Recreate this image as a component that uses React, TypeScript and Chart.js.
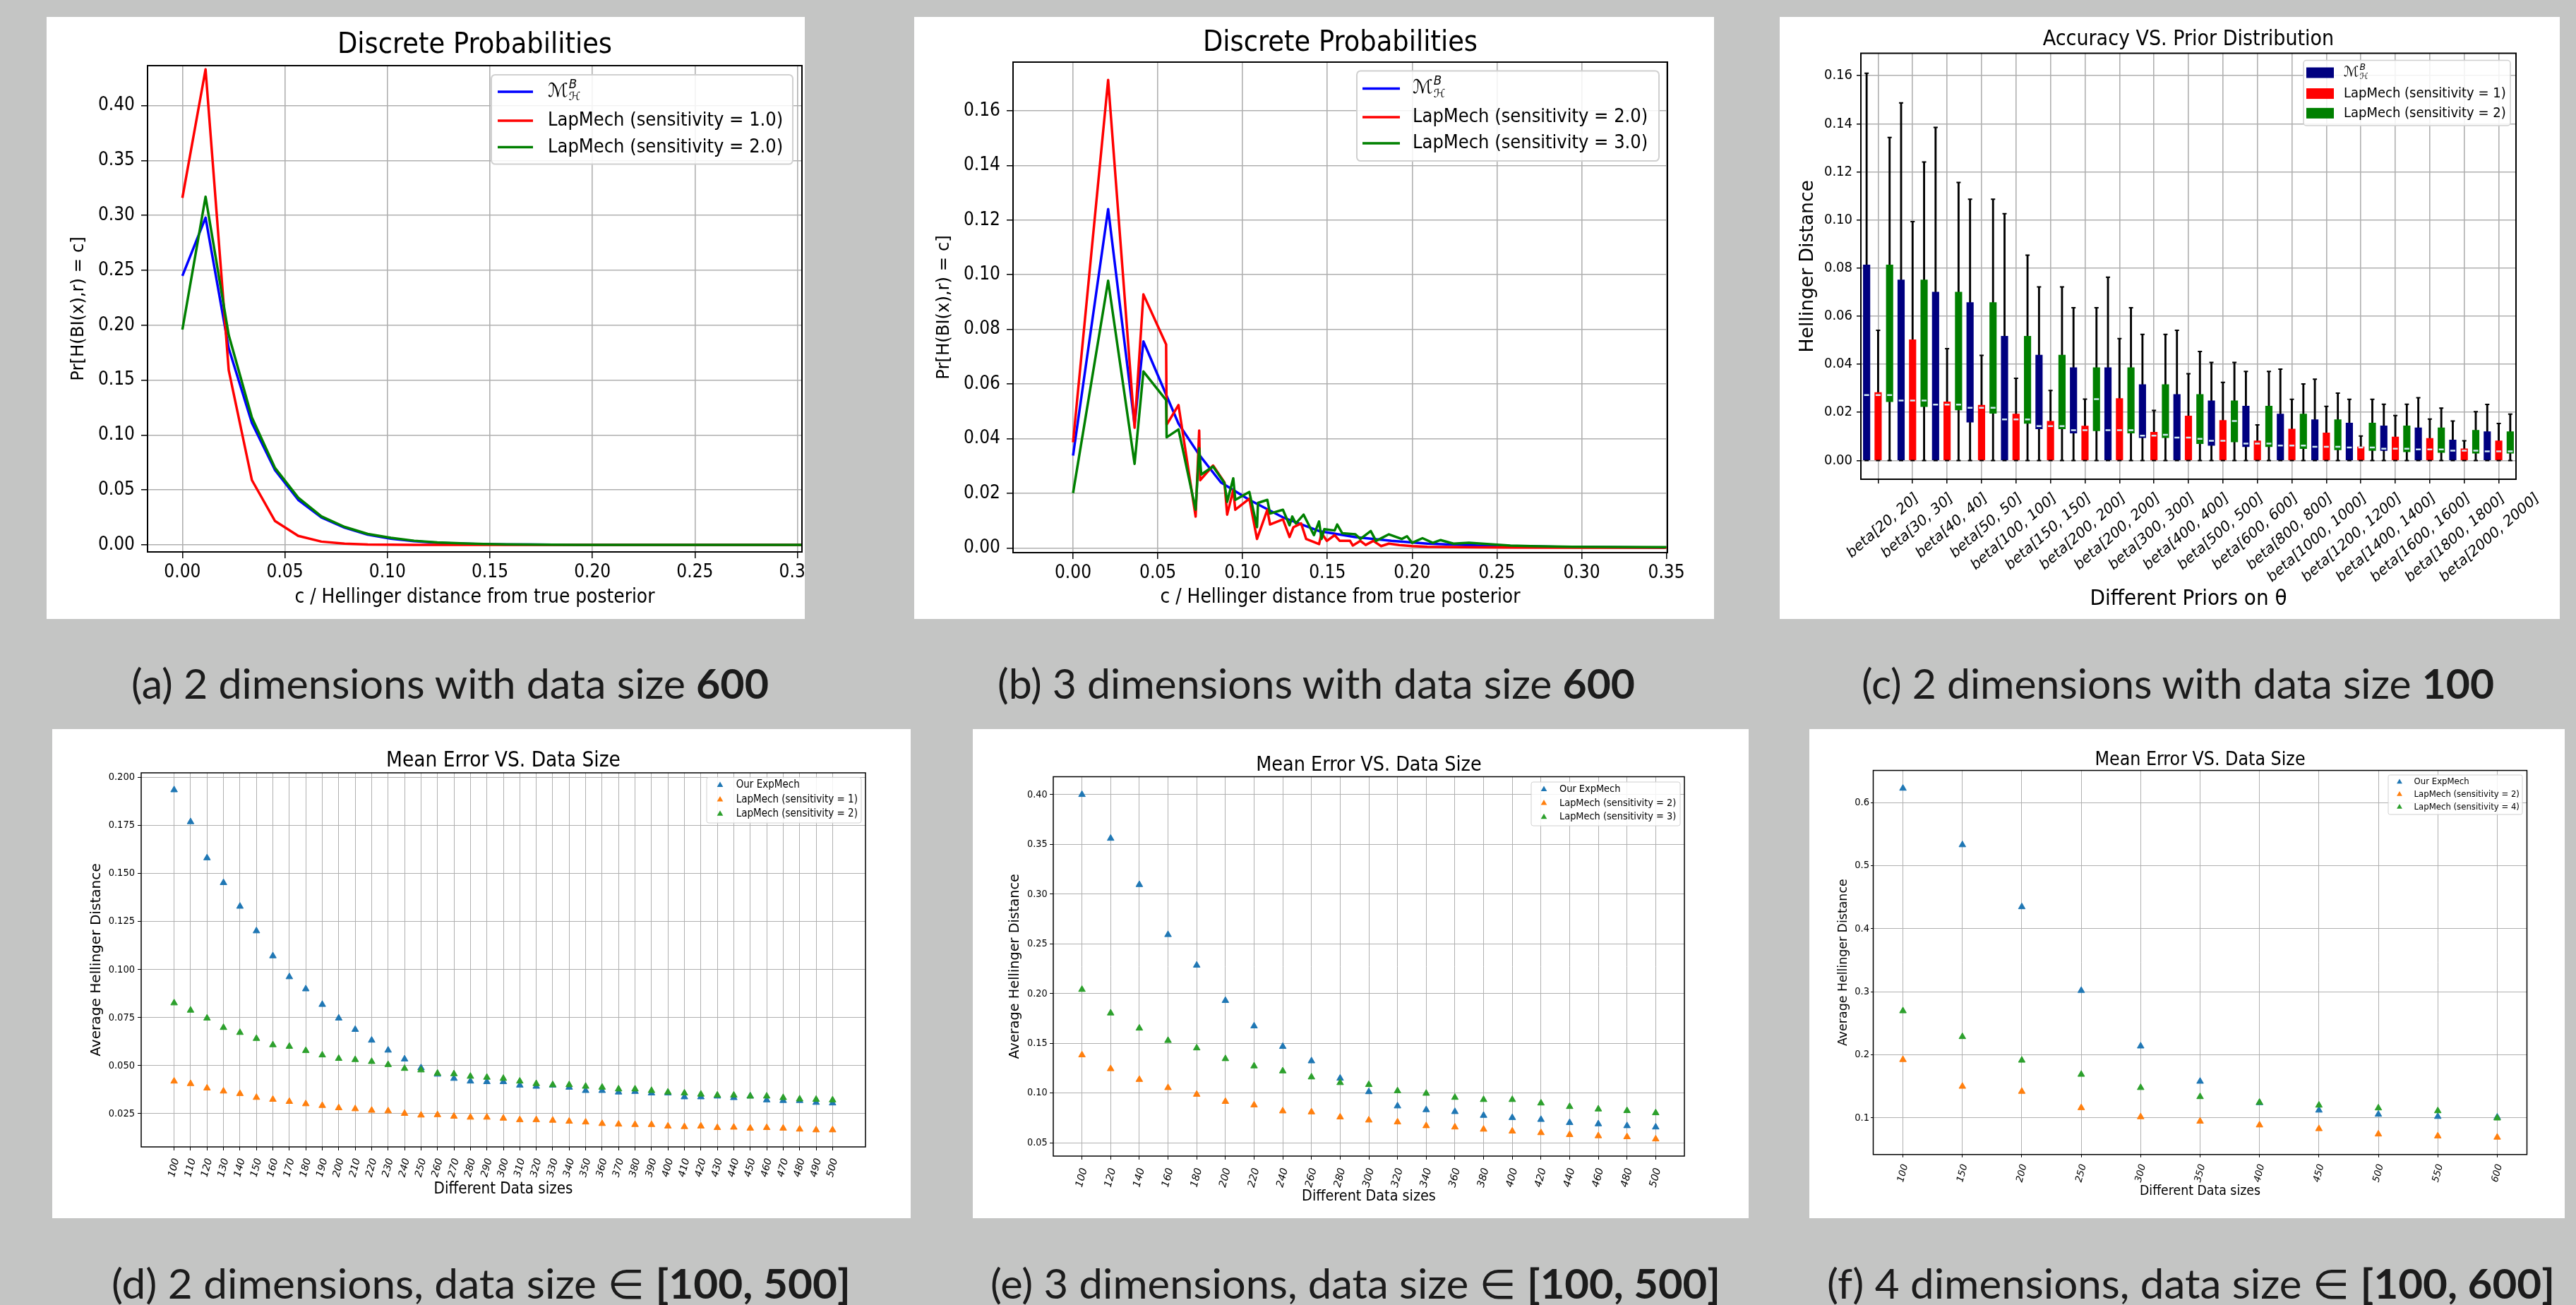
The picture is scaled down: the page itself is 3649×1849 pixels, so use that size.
import React, { useEffect, useLayoutEffect, useRef, useState } from "react";
import { Chart, registerables } from "chart.js";
Chart.register(...registerables);

const FONT_C = "'DejaVu Sans Condensed', 'DejaVu Sans', sans-serif";
const FONT_N = "'DejaVu Sans', sans-serif";
const CAPTION_FONT = "Lato, 'Open Sans', 'DejaVu Sans', sans-serif";
const PAGE_BG = "#c4c5c4";
const MATH = "__MATH__";

// ---------------- (a) data ----------------
const aX = [0, 0.0113, 0.0226, 0.0339, 0.0452, 0.0565, 0.0678, 0.0791, 0.0904, 0.1017, 0.113, 0.1243, 0.1356, 0.1469, 0.1582, 0.1695, 0.1808, 0.1921, 0.2034, 0.2147, 0.226, 0.2373, 0.2486, 0.2599, 0.2712, 0.2825, 0.2938, 0.3051];
const aMB = [0.245, 0.298, 0.179, 0.111, 0.068, 0.041, 0.025, 0.0157, 0.0093, 0.0057, 0.0034, 0.002, 0.0012, 0.0007, 0.0004, 0.0003, 0.0002, 0.0001, 0.0001, 0.0001, 0, 0, 0, 0, 0, 0, 0, 0];
const aLap1 = [0.316, 0.433, 0.159, 0.059, 0.0217, 0.0082, 0.003, 0.0011, 0.0004, 0.0002, 0.0001, 0, 0, 0, 0, 0, 0, 0, 0, 0, 0, 0, 0, 0, 0, 0, 0, 0];
const aLap2 = [0.196, 0.317, 0.191, 0.116, 0.07, 0.043, 0.026, 0.0164, 0.01, 0.0064, 0.0038, 0.0023, 0.0014, 0.0008, 0.0005, 0.0003, 0.0002, 0.0001, 0.0001, 0, 0, 0, 0, 0, 0, 0, 0, 0];
const aXTicks = [0, 0.05, 0.1, 0.15, 0.2, 0.25, 0.3];
const aYTicks = [0, 0.05, 0.1, 0.15, 0.2, 0.25, 0.3, 0.35, 0.4];
const aNames = [MATH, "LapMech (sensitivity = 1.0)", "LapMech (sensitivity = 2.0)"];

// ---------------- (b) data ----------------
const bMBX = [0, 0.0207, 0.0363, 0.0415, 0.0622, 0.0744, 0.0872, 0.104, 0.1238, 0.1451, 0.1665, 0.1878, 0.2091, 0.2396, 0.2854, 0.349];
const bMBY = [0.0338, 0.124, 0.0451, 0.0756, 0.0455, 0.0341, 0.024, 0.0176, 0.0112, 0.0062, 0.004, 0.0026, 0.0016, 0.0009, 0.0004, 0.0001];
const bLap2X = [0, 0.0207, 0.0363, 0.0415, 0.0549, 0.0552, 0.0622, 0.0723, 0.0744, 0.075, 0.0826, 0.0893, 0.0909, 0.0945, 0.0957, 0.104, 0.1085, 0.1146, 0.1162, 0.1238, 0.1277, 0.13, 0.1345, 0.1375, 0.1451, 0.1466, 0.1497, 0.1543, 0.1573, 0.1634, 0.165, 0.1695, 0.1726, 0.1771, 0.1817, 0.1863, 0.1924, 0.2, 0.209, 0.23, 0.26, 0.3, 0.35];
const bLap2Y = [0.0387, 0.1713, 0.044, 0.0928, 0.0745, 0.0451, 0.0523, 0.0115, 0.043, 0.0248, 0.0302, 0.024, 0.0122, 0.0212, 0.014, 0.018, 0.0033, 0.014, 0.0086, 0.0105, 0.004, 0.0076, 0.009, 0.0033, 0.0014, 0.0054, 0.0026, 0.0047, 0.0026, 0.0026, 0.0009, 0.0026, 0.0011, 0.0026, 0.0007, 0.0016, 0.0011, 0.0007, 0.0004, 0.0003, 0.0002, 0.0001, 0.0001];
const bLap3X = [0, 0.0207, 0.0363, 0.0415, 0.0549, 0.0552, 0.0622, 0.0723, 0.0744, 0.0756, 0.0826, 0.0893, 0.0909, 0.0945, 0.0957, 0.104, 0.1085, 0.1091, 0.1146, 0.1162, 0.1238, 0.1277, 0.1293, 0.1314, 0.136, 0.1421, 0.1451, 0.1466, 0.1482, 0.1543, 0.1558, 0.1588, 0.1665, 0.1695, 0.1756, 0.1787, 0.1863, 0.1939, 0.197, 0.2, 0.2061, 0.2122, 0.2168, 0.2244, 0.2335, 0.2457, 0.2579, 0.27, 0.2945, 0.35];
const bLap3Y = [0.0201, 0.0978, 0.0308, 0.0646, 0.0541, 0.0405, 0.0434, 0.014, 0.0365, 0.0269, 0.0298, 0.0238, 0.0169, 0.0255, 0.0176, 0.0205, 0.0076, 0.0165, 0.0176, 0.0126, 0.014, 0.0083, 0.0115, 0.009, 0.0122, 0.0047, 0.0097, 0.0033, 0.0069, 0.0064, 0.0086, 0.0054, 0.005, 0.0033, 0.0062, 0.0026, 0.005, 0.0033, 0.0043, 0.0019, 0.0036, 0.0019, 0.0029, 0.0016, 0.0019, 0.0014, 0.0009, 0.0007, 0.0004, 0.0003];
const bXTicks = [0, 0.05, 0.1, 0.15, 0.2, 0.25, 0.3, 0.35];
const bYTicks = [0, 0.02, 0.04, 0.06, 0.08, 0.1, 0.12, 0.14, 0.16];
const bNames = [MATH, "LapMech (sensitivity = 2.0)", "LapMech (sensitivity = 3.0)"];

// ---------------- (c) data ----------------
const cCategories = ["beta[20, 20]", "beta[30, 30]", "beta[40, 40]", "beta[50, 50]", "beta[100, 100]", "beta[150, 150]", "beta[200, 200]", "beta[200, 200]", "beta[300, 300]", "beta[400, 400]", "beta[500, 500]", "beta[600, 600]", "beta[800, 800]", "beta[1000, 1000]", "beta[1200, 1200]", "beta[1400, 1400]", "beta[1600, 1600]", "beta[1800, 1800]", "beta[2000, 2000]"];
const cMBMin = [0, 0, 0, 0, 0, 0, 0, 0, 0, 0, 0, 0, 0, 0, 0, 0, 0, 0, 0];
const cMBQ1 = [0, 0, 0, 0.0159, 0, 0.0131, 0.0114, 0, 0.0095, 0, 0.0062, 0.0057, 0, 0, 0, 0.0041, 0, 0, 0];
const cMBMed = [0.0272, 0.0249, 0.0232, 0.0219, 0.0171, 0.0143, 0.0126, 0.0126, 0.0103, 0.0095, 0.0082, 0.007, 0.0062, 0.0057, 0.0054, 0.0049, 0.0046, 0.0041, 0.0038];
const cMBQ3 = [0.0813, 0.0751, 0.07, 0.0657, 0.0517, 0.0438, 0.0386, 0.0386, 0.0316, 0.0275, 0.0248, 0.0226, 0.0193, 0.017, 0.0156, 0.0144, 0.0136, 0.0085, 0.012];
const cMBMax = [0.161, 0.1487, 0.1385, 0.1086, 0.1026, 0.0722, 0.0635, 0.0762, 0.0524, 0.0541, 0.0408, 0.037, 0.038, 0.0338, 0.0254, 0.0234, 0.0261, 0.0164, 0.0233];
const cL1Min = [0, 0, 0, 0, 0, 0, 0, 0, 0, 0, 0, 0, 0, 0, 0, 0, 0, 0, 0];
const cL1Q1 = [0, 0, 0, 0, 0, 0, 0, 0, 0, 0, 0, 0, 0, 0, 0, 0, 0, 0, 0];
const cL1Med = [0.0272, 0.0249, 0.0232, 0.0219, 0.0171, 0.0143, 0.0126, 0.0126, 0.0103, 0.0095, 0.0082, 0.007, 0.0062, 0.0057, 0.0054, 0.0049, 0.0046, 0.0041, 0.0038];
const cL1Q3 = [0.0283, 0.0502, 0.0244, 0.023, 0.0193, 0.0163, 0.0143, 0.0258, 0.0118, 0.0185, 0.0167, 0.0082, 0.0131, 0.0115, 0.0057, 0.0098, 0.0092, 0.0049, 0.0082];
const cL1Max = [0.0541, 0.0993, 0.0465, 0.0437, 0.0342, 0.0291, 0.0255, 0.0507, 0.0208, 0.0361, 0.0325, 0.0148, 0.0254, 0.0225, 0.0102, 0.0187, 0.0172, 0.0082, 0.0154];
const cL2Min = [0, 0, 0, 0, 0, 0, 0, 0, 0, 0, 0, 0, 0, 0, 0, 0, 0, 0, 0];
const cL2Q1 = [0.0244, 0.0224, 0.021, 0.0196, 0.0154, 0.0131, 0.0123, 0.0114, 0.0095, 0.007, 0.0077, 0.0057, 0.0049, 0.0044, 0.0041, 0.0036, 0.0033, 0.003, 0.003];
const cL2Med = [0.0272, 0.0249, 0.0232, 0.0219, 0.0171, 0.0143, 0.0255, 0.0126, 0.0107, 0.009, 0.0164, 0.007, 0.0062, 0.0057, 0.0054, 0.0049, 0.0046, 0.0041, 0.0038];
const cL2Q3 = [0.0813, 0.0751, 0.07, 0.0657, 0.0517, 0.0438, 0.0386, 0.0386, 0.0316, 0.0275, 0.0248, 0.0226, 0.0193, 0.017, 0.0156, 0.0144, 0.0136, 0.0126, 0.012];
const cL2Max = [0.1343, 0.1241, 0.1156, 0.1086, 0.0854, 0.0722, 0.0635, 0.0635, 0.0524, 0.0453, 0.0408, 0.037, 0.0318, 0.028, 0.0254, 0.0234, 0.0218, 0.0203, 0.0193];
const cYTicks = [0, 0.02, 0.04, 0.06, 0.08, 0.1, 0.12, 0.14, 0.16];
const cNames = [MATH, "LapMech (sensitivity = 1)", "LapMech (sensitivity = 2)"];

// ---------------- (d) data ----------------
const dX = [100, 110, 120, 130, 140, 150, 160, 170, 180, 190, 200, 210, 220, 230, 240, 250, 260, 270, 280, 290, 300, 310, 320, 330, 340, 350, 360, 370, 380, 390, 400, 410, 420, 430, 440, 450, 460, 470, 480, 490, 500];
const dOurs = [0.1935, 0.1769, 0.1581, 0.1452, 0.1329, 0.1201, 0.1071, 0.0962, 0.0899, 0.0818, 0.0747, 0.0688, 0.0632, 0.058, 0.0534, 0.0488, 0.0455, 0.0433, 0.0419, 0.0416, 0.0416, 0.0398, 0.0392, 0.0398, 0.0387, 0.037, 0.037, 0.0362, 0.0365, 0.0357, 0.0357, 0.0337, 0.0337, 0.0341, 0.0333, 0.0341, 0.0321, 0.0318, 0.0318, 0.0308, 0.0305];
const dLap1 = [0.0419, 0.0406, 0.0383, 0.0367, 0.0354, 0.0334, 0.0324, 0.0313, 0.0301, 0.0292, 0.028, 0.0275, 0.0267, 0.0264, 0.0251, 0.0242, 0.0244, 0.0236, 0.0231, 0.0231, 0.0226, 0.0218, 0.0218, 0.0215, 0.021, 0.0206, 0.0198, 0.0195, 0.0193, 0.0193, 0.0185, 0.0182, 0.0185, 0.0177, 0.0179, 0.0174, 0.0177, 0.0174, 0.0169, 0.0165, 0.0165];
const dLap2 = [0.0826, 0.0788, 0.0747, 0.0698, 0.0672, 0.0641, 0.0608, 0.06, 0.0578, 0.0555, 0.0537, 0.0531, 0.0521, 0.0505, 0.0485, 0.0477, 0.046, 0.0457, 0.0444, 0.0439, 0.0433, 0.0419, 0.0406, 0.04, 0.04, 0.0392, 0.0387, 0.0378, 0.0378, 0.037, 0.0362, 0.0357, 0.0351, 0.0346, 0.0346, 0.0341, 0.0341, 0.0333, 0.0326, 0.0324, 0.0321];
const dYTicks = [0.025, 0.05, 0.075, 0.1, 0.125, 0.15, 0.175, 0.2];
const dNames = ["Our ExpMech", "LapMech (sensitivity = 1)", "LapMech (sensitivity = 2)"];

// ---------------- (e) data ----------------
const eX = [100, 120, 140, 160, 180, 200, 220, 240, 260, 280, 300, 320, 340, 360, 380, 400, 420, 440, 460, 480, 500];
const eOurs = [0.4, 0.356, 0.3095, 0.2592, 0.2285, 0.193, 0.1674, 0.1468, 0.1323, 0.1149, 0.1013, 0.087, 0.0832, 0.0813, 0.0775, 0.0753, 0.0734, 0.0703, 0.069, 0.0671, 0.0658];
const eLap2 = [0.1383, 0.1244, 0.1136, 0.1054, 0.0987, 0.0915, 0.088, 0.082, 0.081, 0.0759, 0.0728, 0.0709, 0.0671, 0.0658, 0.0636, 0.0617, 0.0601, 0.0582, 0.057, 0.056, 0.0538];
const eLap3 = [0.2041, 0.1804, 0.1652, 0.1528, 0.1453, 0.1345, 0.1272, 0.1222, 0.1161, 0.1104, 0.1085, 0.1022, 0.0997, 0.0956, 0.0934, 0.0934, 0.0899, 0.0864, 0.0839, 0.0823, 0.0801];
const eYTicks = [0.05, 0.1, 0.15, 0.2, 0.25, 0.3, 0.35, 0.4];
const eNames = ["Our ExpMech", "LapMech (sensitivity = 2)", "LapMech (sensitivity = 3)"];

// ---------------- (f) data ----------------
const fX = [100, 150, 200, 250, 300, 350, 400, 450, 500, 550, 600];
const fOurs = [0.6226, 0.533, 0.4347, 0.302, 0.2139, 0.158, 0.124, 0.1122, 0.1057, 0.1022, 0.1012];
const fLap2 = [0.1924, 0.15, 0.142, 0.1161, 0.1017, 0.0947, 0.0887, 0.0828, 0.0743, 0.0713, 0.0693];
const fLap4 = [0.2697, 0.2288, 0.1914, 0.169, 0.148, 0.1336, 0.1246, 0.1201, 0.1157, 0.1112, 0.0997];
const fYTicks = [0.1, 0.2, 0.3, 0.4, 0.5, 0.6];
const fNames = ["Our ExpMech", "LapMech (sensitivity = 2)", "LapMech (sensitivity = 4)"];

// ---------------- captions ----------------
const capA = ["(a) 2 dimensions with data size ", "600"];
const capB = ["(b) 3 dimensions with data size ", "600"];
const capC = ["(c) 2 dimensions with data size ", "100"];
const capD = ["(d) 2 dimensions, data size \u2208 ", "[100, 500]"];
const capE = ["(e) 3 dimensions, data size \u2208 ", "[100, 500]"];
const capF = ["(f) 4 dimensions, data size \u2208 ", "[100, 600]"];

// ---------------- colours ----------------
const LINE_COLORS = ["#0000ff", "#ff0000", "#008000"];
const BOX_COLORS = ["#000080", "#ff0000", "#008000"];
const TAB_COLORS = ["#1f77b4", "#ff7f0e", "#2ca02c"];

// ---------------- helpers ----------------
const f1 = (v: number) => v.toFixed(1);
const f2 = (v: number) => v.toFixed(2);
const f3 = (v: number) => v.toFixed(3);
const fInt = (v: number) => String(Math.round(v));

function axis(o: any) {
  const h = o.horizontal;
  return {
    type: "linear",
    min: o.min,
    max: o.max,
    offset: false,
    afterBuildTicks: (s: any) => {
      s.ticks = o.ticks.map((v: number) => ({ value: v }));
    },
    afterFit: (s: any) => {
      if (h) s.height = o.size;
      else s.width = o.size;
      s.paddingLeft = 0;
      s.paddingRight = 0;
      s.paddingTop = 0;
      s.paddingBottom = 0;
    },
    grid: {
      display: true,
      color: "#b0b0b0",
      lineWidth: o.gridW,
      drawTicks: true,
      tickLength: o.tickLen,
      tickColor: "#000",
      tickWidth: o.tickW,
      offset: false,
    },
    border: { display: false },
    ticks: {
      autoSkip: false,
      includeBounds: false,
      padding: o.pad,
      color: "#000",
      font: { family: o.tickFamily || FONT_C, size: o.tickSize, style: o.tickStyle || "normal" },
      minRotation: o.rot || 0,
      maxRotation: o.rot || 0,
      labelOffset: o.labelOffset || 0,
      callback: o.fmt,
    },
    title: {
      display: true,
      text: o.title,
      color: "#000",
      font: { family: o.titleFamily, size: o.titleSize },
      padding: h ? { top: 0, bottom: o.titlePad } : { top: o.titlePad, bottom: 0 },
    },
  };
}

function baseOptions(pad: any, scales: any) {
  return {
    animation: false,
    responsive: false,
    devicePixelRatio: 1,
    events: [],
    layout: { padding: { left: 0, top: pad.top, right: pad.right, bottom: 0 } },
    plugins: { legend: { display: false }, tooltip: { enabled: false }, title: { display: false } },
    scales,
  };
}

const framePlugin = (lw: number) => ({
  id: "frame",
  afterDatasetsDraw(chart: any) {
    const { ctx, chartArea: a } = chart;
    ctx.save();
    ctx.strokeStyle = "#000";
    ctx.lineWidth = lw;
    ctx.strokeRect(a.left, a.top, a.right - a.left, a.bottom - a.top);
    ctx.restore();
  },
});

const titlePlugin = (text: string, size: number, y: number) => ({
  id: "ptitle",
  afterDraw(chart: any) {
    const { ctx, chartArea: a } = chart;
    ctx.save();
    ctx.font = `${size}px ${FONT_C}`;
    ctx.fillStyle = "#000";
    ctx.textAlign = "center";
    ctx.textBaseline = "middle";
    ctx.fillText(text, (a.left + a.right) / 2, y);
    ctx.restore();
  },
});

function drawMath(ctx: any, x: number, y: number, size: number) {
  ctx.textAlign = "left";
  ctx.textBaseline = "middle";
  ctx.font = `${size}px ${FONT_N}`;
  ctx.fillText("\u2133", x, y);
  const w = ctx.measureText("\u2133").width;
  const s = size * 0.62;
  ctx.font = `italic ${s}px ${FONT_N}`;
  ctx.fillText("B", x + w + 1, y - size * 0.36);
  ctx.font = `${s}px ${FONT_N}`;
  ctx.fillText("\u210B", x + w + 1, y + size * 0.3);
}

const legendPlugin = (names: string[], colors: string[], st: any) => ({
  id: "plegend",
  afterDraw(chart: any) {
    const ctx = chart.ctx;
    ctx.save();
    const [x0, y0, x1, y1] = st.box;
    ctx.beginPath();
    ctx.roundRect(x0, y0, x1 - x0, y1 - y0, st.size * 0.2);
    ctx.fillStyle = "rgba(255,255,255,0.85)";
    ctx.fill();
    ctx.strokeStyle = "#d0d0d0";
    ctx.lineWidth = st.frameW;
    ctx.stroke();
    names.forEach((name, i) => {
      const y = st.rows[i];
      const c = colors[i];
      if (st.kind === "line") {
        ctx.strokeStyle = c;
        ctx.lineWidth = st.lineW;
        ctx.beginPath();
        ctx.moveTo(st.markX0, y);
        ctx.lineTo(st.markX1, y);
        ctx.stroke();
      } else if (st.kind === "patch") {
        ctx.fillStyle = c;
        ctx.fillRect(st.markX0, y - st.patchH / 2, st.markX1 - st.markX0, st.patchH);
      } else {
        const r = st.triR;
        ctx.fillStyle = c;
        ctx.beginPath();
        ctx.moveTo(st.markX0, y - r);
        ctx.lineTo(st.markX0 + r * 0.866, y + r * 0.5);
        ctx.lineTo(st.markX0 - r * 0.866, y + r * 0.5);
        ctx.closePath();
        ctx.fill();
      }
      ctx.fillStyle = "#000";
      if (name === MATH) {
        drawMath(ctx, st.textX, y, st.size);
      } else {
        ctx.font = `${st.size}px ${FONT_C}`;
        ctx.textAlign = "left";
        ctx.textBaseline = "middle";
        ctx.fillText(name, st.textX, y);
      }
    });
    ctx.restore();
  },
});

function lineDs(xs: number[], ys: number[], color: string, order: number) {
  return {
    data: xs.map((x, i) => ({ x, y: ys[i] })),
    showLine: true,
    borderColor: color,
    backgroundColor: color,
    borderWidth: 3.5,
    borderJoinStyle: "round",
    pointRadius: 0,
    tension: 0,
    fill: false,
    order,
  };
}

function pointDs(xs: number[], ys: number[], color: string, order: number, r: number) {
  return {
    data: xs.map((x, i) => ({ x, y: ys[i] })),
    showLine: false,
    pointStyle: "triangle",
    pointRadius: r,
    backgroundColor: color,
    borderColor: color,
    borderWidth: 1,
    order,
  };
}

// ---------------- chart configs ----------------
function configA() {
  return {
    type: "scatter",
    data: {
      datasets: [
        lineDs(aX, aMB, LINE_COLORS[0], 3),
        lineDs(aX, aLap1, LINE_COLORS[1], 2),
        lineDs(aX, aLap2, LINE_COLORS[2], 1),
      ],
    },
    options: baseOptions({ top: 69, right: 4 }, {
      x: axis({ horizontal: true, min: -0.017, max: 0.3022, ticks: aXTicks, fmt: f2, size: 95, tickLen: 9, tickW: 1.5, pad: 5, gridW: 1.6, tickSize: 26, title: "c / Hellinger distance from true posterior", titleFamily: FONT_C, titleSize: 27.8, titlePad: 13.4 }),
      y: axis({ horizontal: false, min: -0.0064, max: 0.4364, ticks: aYTicks, fmt: f2, size: 143, tickLen: 9, tickW: 1.5, pad: 9, gridW: 1.6, tickSize: 26, title: "Pr[H(BI(x),r) = c]", titleFamily: FONT_N, titleSize: 24.3, titlePad: 31.4 }),
    }),
    plugins: [
      framePlugin(2),
      titlePlugin("Discrete Probabilities", 41, 40.4),
      legendPlugin(aNames, LINE_COLORS, { box: [630, 82, 1057, 208.5], rows: [106, 147, 184.6], markX0: 639, markX1: 689, textX: 710, size: 27, kind: "line", lineW: 3.5, frameW: 2 }),
    ],
  };
}

function configB() {
  return {
    type: "scatter",
    data: {
      datasets: [
        lineDs(bMBX, bMBY, LINE_COLORS[0], 3),
        lineDs(bLap2X, bLap2Y, LINE_COLORS[1], 2),
        lineDs(bLap3X, bLap3Y, LINE_COLORS[2], 1),
      ],
    },
    options: baseOptions({ top: 64, right: 66 }, {
      x: axis({ horizontal: true, min: -0.0354, max: 0.3506, ticks: bXTicks, fmt: f2, size: 94, tickLen: 9, tickW: 1.5, pad: 5, gridW: 1.6, tickSize: 26, title: "c / Hellinger distance from true posterior", titleFamily: FONT_C, titleSize: 27.8, titlePad: 13.6 }),
      y: axis({ horizontal: false, min: -0.0017, max: 0.1778, ticks: bYTicks, fmt: f2, size: 140, tickLen: 9, tickW: 1.5, pad: 9, gridW: 1.6, tickSize: 26, title: "Pr[H(BI(x),r) = c]", titleFamily: FONT_N, titleSize: 24.3, titlePad: 28.1 }),
    }),
    plugins: [
      framePlugin(2),
      titlePlugin("Discrete Probabilities", 41, 37.6),
      legendPlugin(bNames, LINE_COLORS, { box: [627, 76.5, 1055, 204], rows: [101.4, 142, 179], markX0: 635, markX1: 688, textX: 706, size: 27, kind: "line", lineW: 3.5, frameW: 2 }),
    ],
  };
}

function configC() {
  const series = [
    { min: cMBMin, q1: cMBQ1, med: cMBMed, q3: cMBQ3, max: cMBMax },
    { min: cL1Min, q1: cL1Q1, med: cL1Med, q3: cL1Q3, max: cL1Max },
    { min: cL2Min, q1: cL2Q1, med: cL2Med, q3: cL2Q3, max: cL2Max },
  ];
  const pos = (g: number, s: number) => g * 3 + s + 1;
  const datasets: any[] = [];
  series.forEach((s, si) => {
    datasets.push({
      type: "bar",
      data: s.max.map((m, g) => ({ x: pos(g, si), y: [s.min[g], m] })),
      backgroundColor: "#000",
      barThickness: 2.2,
      grouped: false,
      order: 5,
    });
    datasets.push({
      type: "bar",
      data: s.q3.map((q3, g) => ({ x: pos(g, si), y: [s.q1[g], q3] })),
      backgroundColor: BOX_COLORS[si],
      barThickness: 9.5,
      grouped: false,
      order: 4,
    });
    datasets.push({
      type: "scatter",
      data: s.max.map((m, g) => ({ x: pos(g, si), y: m })).concat(s.min.map((m, g) => ({ x: pos(g, si), y: m }))),
      pointStyle: "line",
      pointRadius: 3,
      borderColor: "#000",
      borderWidth: 2,
      order: 3,
    });
    datasets.push({
      type: "scatter",
      data: s.med.map((m, g) => ({ x: pos(g, si), y: m })),
      pointStyle: "line",
      pointRadius: 3.5,
      borderColor: "#cfe9f2",
      borderWidth: 2.5,
      order: 2,
    });
  });
  const cXTicks = cCategories.map((_, g) => pos(g, 1));
  return {
    type: "bar",
    data: { datasets },
    options: baseOptions({ top: 51.5, right: 62 }, {
      x: axis({ horizontal: true, min: 0.5, max: 57.5, ticks: cXTicks, fmt: (v: number) => cCategories[Math.round((v - 2) / 3)], size: 198, tickLen: 6, tickW: 1.5, pad: 9, gridW: 1.6, tickSize: 20.5, tickFamily: FONT_N, tickStyle: "italic", rot: 41, labelOffset: 55, title: "Different Priors on \u03B8", titleFamily: FONT_C, titleSize: 31, titlePad: 9 }),
      y: axis({ horizontal: false, min: -0.0078, max: 0.1693, ticks: cYTicks, fmt: f2, size: 115, tickLen: 6, tickW: 1.5, pad: 6, gridW: 1.6, tickSize: 20, title: "Hellinger Distance", titleFamily: FONT_N, titleSize: 26.6, titlePad: 24 }),
    }),
    plugins: [
      framePlugin(2),
      titlePlugin("Accuracy VS. Prior Distribution", 30, 32),
      legendPlugin(cNames, BOX_COLORS, { box: [742, 61.5, 1035, 154], rows: [79, 108.6, 136.4], markX0: 746, markX1: 785, textX: 799, size: 20, kind: "patch", patchH: 15, frameW: 1.5 }),
    ],
  };
}

function configScatter(p: any) {
  return {
    type: "scatter",
    data: {
      datasets: [
        pointDs(p.x, p.s[0], TAB_COLORS[0], 3, p.r),
        pointDs(p.x, p.s[1], TAB_COLORS[1], 2, p.r),
        pointDs(p.x, p.s[2], TAB_COLORS[2], 1, p.r),
      ],
    },
    options: baseOptions({ top: p.top, right: p.right }, {
      x: axis({ horizontal: true, min: p.xmin, max: p.xmax, ticks: p.x, fmt: fInt, size: p.xh, tickLen: p.xtl, tickW: 1, pad: p.xpad, gridW: 1, tickSize: p.xts, tickFamily: FONT_N, tickStyle: "italic", rot: 75, labelOffset: 3.5, title: "Different Data sizes", titleFamily: FONT_C, titleSize: p.xtitle, titlePad: p.xtitlePad }),
      y: axis({ horizontal: false, min: p.ymin, max: p.ymax, ticks: p.yticks, fmt: p.yfmt, size: p.yw, tickLen: p.ytl, tickW: 1, pad: p.ypad, gridW: 1, tickSize: p.yts, title: "Average Hellinger Distance", titleFamily: FONT_N, titleSize: p.ytitle, titlePad: p.ytitlePad }),
    }),
    plugins: [
      framePlugin(1.5),
      titlePlugin("Mean Error VS. Data Size", p.titleSize, p.titleY),
      legendPlugin(p.names, TAB_COLORS, p.legend),
    ],
  };
}

const configD = () =>
  configScatter({
    x: dX, s: [dOurs, dLap1, dLap2], names: dNames, r: 5.5,
    top: 62, right: 64, xmin: 80, xmax: 520, xh: 101, xtl: 5, xpad: 9.5, xts: 14, xtitle: 22.2, xtitlePad: 27.3,
    ymin: 0.0077, ymax: 0.2024, yticks: dYTicks, yfmt: f3, yw: 126, ytl: 5, ypad: 4, yts: 14.5, ytitle: 20.1, ytitlePad: 50.3,
    titleSize: 29.5, titleY: 45,
    legend: { box: [927, 68.4, 1146, 133], rows: [79.6, 100, 120.2], markX0: 946, textX: 968.7, size: 15, kind: "tri", triR: 5, frameW: 1 },
  });

const configE = () =>
  configScatter({
    x: eX, s: [eOurs, eLap2, eLap3], names: eNames, r: 5.5,
    top: 67.5, right: 91, xmin: 80, xmax: 520, xh: 88, xtl: 5, xpad: 10, xts: 14.5, xtitle: 21.4, xtitlePad: 18.2,
    ymin: 0.0367, ymax: 0.418, yticks: eYTicks, yfmt: f2, yw: 114, ytl: 5, ypad: 3.4, yts: 14.3, ytitle: 19.3, ytitlePad: 48.4,
    titleSize: 28.4, titleY: 52,
    legend: { box: [791, 75, 1002, 137], rows: [85.4, 105, 124.7], markX0: 809, textX: 831, size: 14.4, kind: "tri", triR: 5, frameW: 1 },
  });

const configF = () =>
  configScatter({
    x: fX, s: [fOurs, fLap2, fLap4], names: fNames, r: 5.5,
    top: 58.6, right: 53.5, xmin: 75, xmax: 625, xh: 90.2, xtl: 4, xpad: 8, xts: 13.5, xtitle: 19.3, xtitlePad: 26.8,
    ymin: 0.042, ymax: 0.651, yticks: fYTicks, yfmt: f1, yw: 90.5, ytl: 3.5, ypad: 2, yts: 14.5, ytitle: 17.4, ytitlePad: 38.5,
    titleSize: 26.5, titleY: 44,
    legend: { box: [820, 65, 1010, 121], rows: [75, 92.5, 110.4], markX0: 836, textX: 856.6, size: 13, kind: "tri", triR: 4.5, frameW: 1 },
  });

// ---------------- components ----------------
function ChartPanel({ left, top, width, height, make }: any) {
  const ref = useRef<HTMLCanvasElement>(null);
  useEffect(() => {
    const chart = new Chart(ref.current as any, make() as any);
    return () => chart.destroy();
  }, []);
  return (
    <div style={{ position: "absolute", left, top, width, height, background: "#fff" }}>
      <canvas ref={ref} width={width} height={height} style={{ display: "block", width, height }} />
    </div>
  );
}

function Caption({ left, top, width, parts }: any) {
  const ref = useRef<HTMLSpanElement>(null);
  const [sx, setSx] = useState(1);
  useLayoutEffect(() => {
    if (ref.current) {
      const w = ref.current.getBoundingClientRect().width;
      if (w > 0) setSx(width / w);
    }
  }, [width]);
  return (
    <div
      style={{
        position: "absolute",
        left,
        top,
        whiteSpace: "nowrap",
        fontFamily: CAPTION_FONT,
        fontSize: 58,
        lineHeight: 1.2,
        color: "#1c1c1c",
        transformOrigin: "0 0",
        transform: `scaleX(${sx})`,
      }}
    >
      <span ref={ref}>
        <span>{parts[0]}</span>
        <span style={{ fontWeight: 700 }}>{parts[1]}</span>
      </span>
    </div>
  );
}

export default function App() {
  return (
    <div style={{ position: "absolute", left: 0, top: 0, width: 3649, height: 1849, background: PAGE_BG, overflow: "hidden" }}>
      <ChartPanel left={66} top={24} width={1074} height={853} make={configA} />
      <ChartPanel left={1295} top={24} width={1133} height={853} make={configB} />
      <ChartPanel left={2521} top={24} width={1105} height={853} make={configC} />
      <ChartPanel left={74} top={1033} width={1216} height={693} make={configD} />
      <ChartPanel left={1378} top={1033} width={1099} height={693} make={configE} />
      <ChartPanel left={2563} top={1033} width={1070} height={693} make={configF} />
      <Caption left={186} top={933} width={903} parts={capA} />
      <Caption left={1413} top={933} width={903} parts={capB} />
      <Caption left={2637} top={933} width={896} parts={capC} />
      <Caption left={158} top={1783} width={1047} parts={capD} />
      <Caption left={1403} top={1783} width={1034} parts={capE} />
      <Caption left={2588} top={1783} width={1031} parts={capF} />
    </div>
  );
}
